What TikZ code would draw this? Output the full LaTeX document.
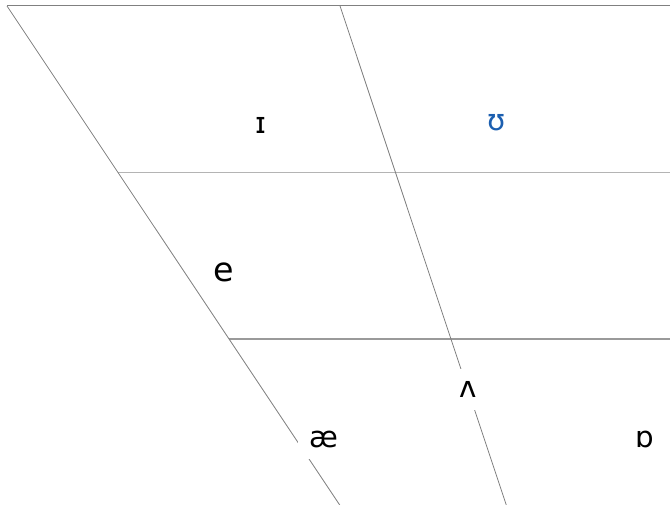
\documentclass[tikz,border=0pt]{standalone}
\usepackage{fontspec}
\setmainfont{DejaVu Sans}
\usepackage{xcolor}
\usepackage{tikz}
\definecolor{vblue}{HTML}{1C5FB0}
\definecolor{gridA}{HTML}{808080}
\definecolor{gridB}{HTML}{B4B4B4}
\definecolor{gridC}{HTML}{9A9A9A}

\begin{document}
\begin{tikzpicture}[
  x=0.75pt, y=-0.75pt,
  font=\fontsize{22}{26}\selectfont,
  vw/.style={inner sep=9pt},
  cut/.style={vw, fill=white},
  edge/.style={draw=gridA, line width=0.75pt},
  slant/.style={draw=gridA, line width=0.6pt},
  row/.style={draw=gridB, line width=1.1pt},
  rowlow/.style={draw=gridC, line width=0.9pt}
]
\useasboundingbox (0,0) rectangle (670,505);
% corners of the chart
\coordinate (ftop) at (7,6);
\coordinate (ctop) at (340,6);
\coordinate (rtop) at (670,6);
\coordinate (fbot) at (339.7,505);
\coordinate (cbot) at (506.3,505);
\coordinate (fmid) at (118,172.5);
\coordinate (rmid) at (670,172.5);
\coordinate (flow) at (229,339);
\coordinate (rlow) at (670,339);
% lines
\draw[edge] (ftop) -- (rtop);
\draw[row] (fmid) -- (rmid);
\draw[rowlow] (flow) -- (rlow);
\draw[slant] (ftop) -- (fbot);
\draw[slant] (ctop) -- (cbot);
% vowels
\node[vw]             (ih)    at (261,125)   {ɪ};
\node[vw, text=vblue] (uh)    at (497,123)   {ʊ};
\node[vw, font=\fontsize{25}{30}\selectfont] (e) at (223.5,272.5) {e};
\node[cut]            (wedge) at (468,389.5) {ʌ};
\node[cut]            (ae)    at (324,439)   {æ};
\node[vw]             (turna) at (645,439)   {ɒ};
\end{tikzpicture}
\end{document}
